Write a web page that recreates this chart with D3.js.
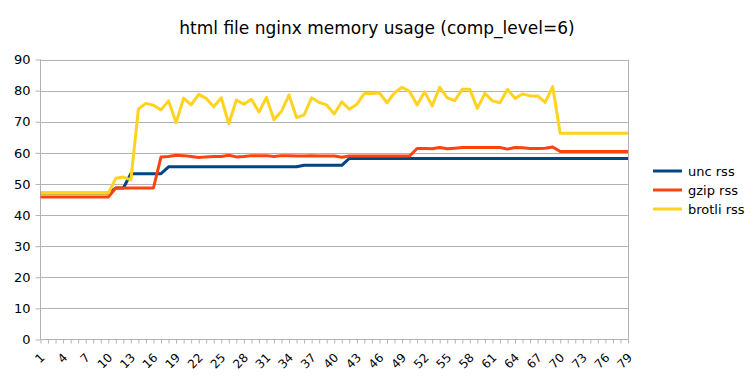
<!DOCTYPE html>
<html>
<head>
<meta charset="utf-8">
<script src="https://cdn.jsdelivr.net/npm/d3@7"></script>
<style>
  body { margin: 0; background: #fff; }
  text { font-family: "DejaVu Sans", sans-serif; fill: #000; }
</style>
</head>
<body>
<svg id="chart" width="756" height="378"></svg>
<script>
// categories 1..79 (run number)
var categories = d3.range(1, 80);
var tickLabels = categories.filter(function(d){ return (d - 1) % 3 === 0; });
var yTicks = [0, 10, 20, 30, 40, 50, 60, 70, 80, 90];

var uncRss = [
  47.0, 47.0, 47.0, 47.0, 47.0, 47.0, 47.0, 47.0, 47.0, 47.0,
  48.7, 48.7, 53.3, 53.3, 53.3, 53.3, 53.3,
  55.5, 55.5, 55.5, 55.5, 55.5, 55.5, 55.5, 55.5, 55.5, 55.5, 55.5, 55.5, 55.5, 55.5, 55.5, 55.5, 55.5, 55.5,
  56.0, 56.0, 56.0, 56.0, 56.0, 56.0,
  58.2, 58.2, 58.2, 58.2, 58.2, 58.2, 58.2, 58.2, 58.2, 58.2, 58.2, 58.2, 58.2, 58.2, 58.2, 58.2, 58.2, 58.2, 58.2,
  58.2, 58.2, 58.2, 58.2, 58.2, 58.2, 58.2, 58.2, 58.2, 58.2, 58.2, 58.2, 58.2, 58.2, 58.2, 58.2, 58.2, 58.2, 58.2
];
var gzipRss = [
  45.8, 45.8, 45.8, 45.8, 45.8, 45.8, 45.8, 45.8, 45.8, 45.8,
  48.7, 48.7, 48.7, 48.7, 48.7, 48.7,
  58.7, 58.8, 59.2, 59.1, 58.8, 58.5, 58.7, 58.8, 58.8, 59.2, 58.7, 58.8, 59.1, 59.1, 59.1, 58.8, 59.1, 59.1,
  59.0, 59.0, 59.1, 59.0, 59.0, 59.0, 58.6, 59.0, 59.0, 59.0, 59.0, 59.0, 59.0, 59.0, 59.0, 59.0,
  61.4, 61.4, 61.3, 61.7, 61.3, 61.5, 61.7, 61.7, 61.7, 61.7, 61.7, 61.7, 61.2, 61.7, 61.6, 61.4, 61.4, 61.5, 61.9,
  60.4, 60.4, 60.4, 60.4, 60.4, 60.4, 60.4, 60.4, 60.4, 60.4
];
var brotliRss = [
  47.0, 47.0, 47.0, 47.0, 47.0, 47.0, 47.0, 47.0, 47.0, 47.0,
  51.8, 52.2, 51.3, 74.1, 75.9, 75.3, 73.8, 76.7, 69.7, 77.6,
  75.4, 78.8, 77.5, 74.8, 77.7, 69.3, 77.0, 75.6, 77.2, 73.1,
  77.8, 70.6, 73.4, 78.6, 71.3, 72.2, 77.7, 76.2, 75.4, 72.5,
  76.4, 74.0, 75.6, 79.1, 79.1, 79.3, 76.1, 79.3, 81.1, 79.7,
  75.4, 79.6, 75.1, 81.1, 77.7, 76.8, 80.4, 80.4, 74.3, 79.1,
  76.7, 76.1, 80.4, 77.5, 78.9, 78.3, 78.3, 76.2, 81.3,
  66.3, 66.3, 66.3, 66.3, 66.3, 66.3, 66.3, 66.3, 66.3, 66.3
];

var seriesNames = ["unc rss", "gzip rss", "brotli rss"];
var seriesValues = [uncRss, gzipRss, brotliRss];
var seriesColors = ["#004586", "#ff420e", "#ffd320"];

var svg = d3.select("#chart");
var plotLeft = 40.5, plotRight = 628, plotTop = 59.5, plotBottom = 339.5;

var x = d3.scalePoint().domain(categories).range([plotLeft, plotRight]);
var y = d3.scaleLinear().domain([0, 90]).range([plotBottom, plotTop]);

// title
svg.append("text")
  .attr("x", 377).attr("y", 34)
  .attr("text-anchor", "middle")
  .style("font-size", "17px")
  .text("html file nginx memory usage (comp_level=6)");

// gridlines
svg.append("g").selectAll("line")
  .data(yTicks.filter(function(d){ return d > 0; }))
  .enter().append("line")
  .attr("x1", plotLeft).attr("x2", plotRight)
  .attr("y1", function(d){ return Math.round(y(d)) + 0.5; })
  .attr("y2", function(d){ return Math.round(y(d)) + 0.5; })
  .attr("stroke", "#b3b3b3").attr("stroke-width", 1);

// right border
svg.append("line")
  .attr("x1", plotRight + 0.5).attr("x2", plotRight + 0.5)
  .attr("y1", plotTop).attr("y2", plotBottom)
  .attr("stroke", "#b3b3b3");

// y axis
var yAxis = svg.append("g")
  .attr("transform", "translate(" + plotLeft + ",0)")
  .call(d3.axisLeft(y).tickValues(yTicks).tickSize(5).tickPadding(5));
yAxis.selectAll("text").style("font-size", "13px").attr("font-family", null);
yAxis.selectAll("line, path").attr("stroke", "#b3b3b3");
yAxis.select(".domain").attr("d", "M0," + plotTop + "V" + plotBottom);

// x axis
var xAxis = svg.append("g")
  .attr("transform", "translate(0," + plotBottom + ")")
  .call(d3.axisBottom(x).tickSize(4).tickFormat(""));
xAxis.selectAll("line, path").attr("stroke", "#b3b3b3");
xAxis.select(".domain").attr("d", "M" + plotLeft + ",0H" + plotRight);

svg.append("g").selectAll("text")
  .data(tickLabels)
  .enter().append("text")
  .attr("transform", function(d){ return "translate(" + (x(d) - 1) + "," + (plotBottom + 13) + ") rotate(-45)"; })
  .attr("text-anchor", "end")
  .attr("dy", "0.7em")
  .style("font-size", "12px")
  .text(function(d){ return d; });

// lines
var line = d3.line()
  .x(function(d, i){ return x(categories[i]); })
  .y(function(d){ return y(d); });

svg.append("g").selectAll("path")
  .data(seriesValues)
  .enter().append("path")
  .attr("d", line)
  .attr("fill", "none")
  .attr("stroke", function(d, i){ return seriesColors[i]; })
  .attr("stroke-width", 3)
  .attr("stroke-linejoin", "round");

// legend
var legend = svg.append("g").selectAll("g")
  .data(seriesNames)
  .enter().append("g")
  .attr("transform", function(d, i){ return "translate(653," + (171 + i * 19) + ")"; });
legend.append("line")
  .attr("x1", 0).attr("x2", 29)
  .attr("stroke", function(d, i){ return seriesColors[i]; })
  .attr("stroke-width", 3);
legend.append("text")
  .attr("x", 35).attr("dy", "0.35em")
  .style("font-size", "13px")
  .text(function(d){ return d; });
</script>
</body>
</html>
